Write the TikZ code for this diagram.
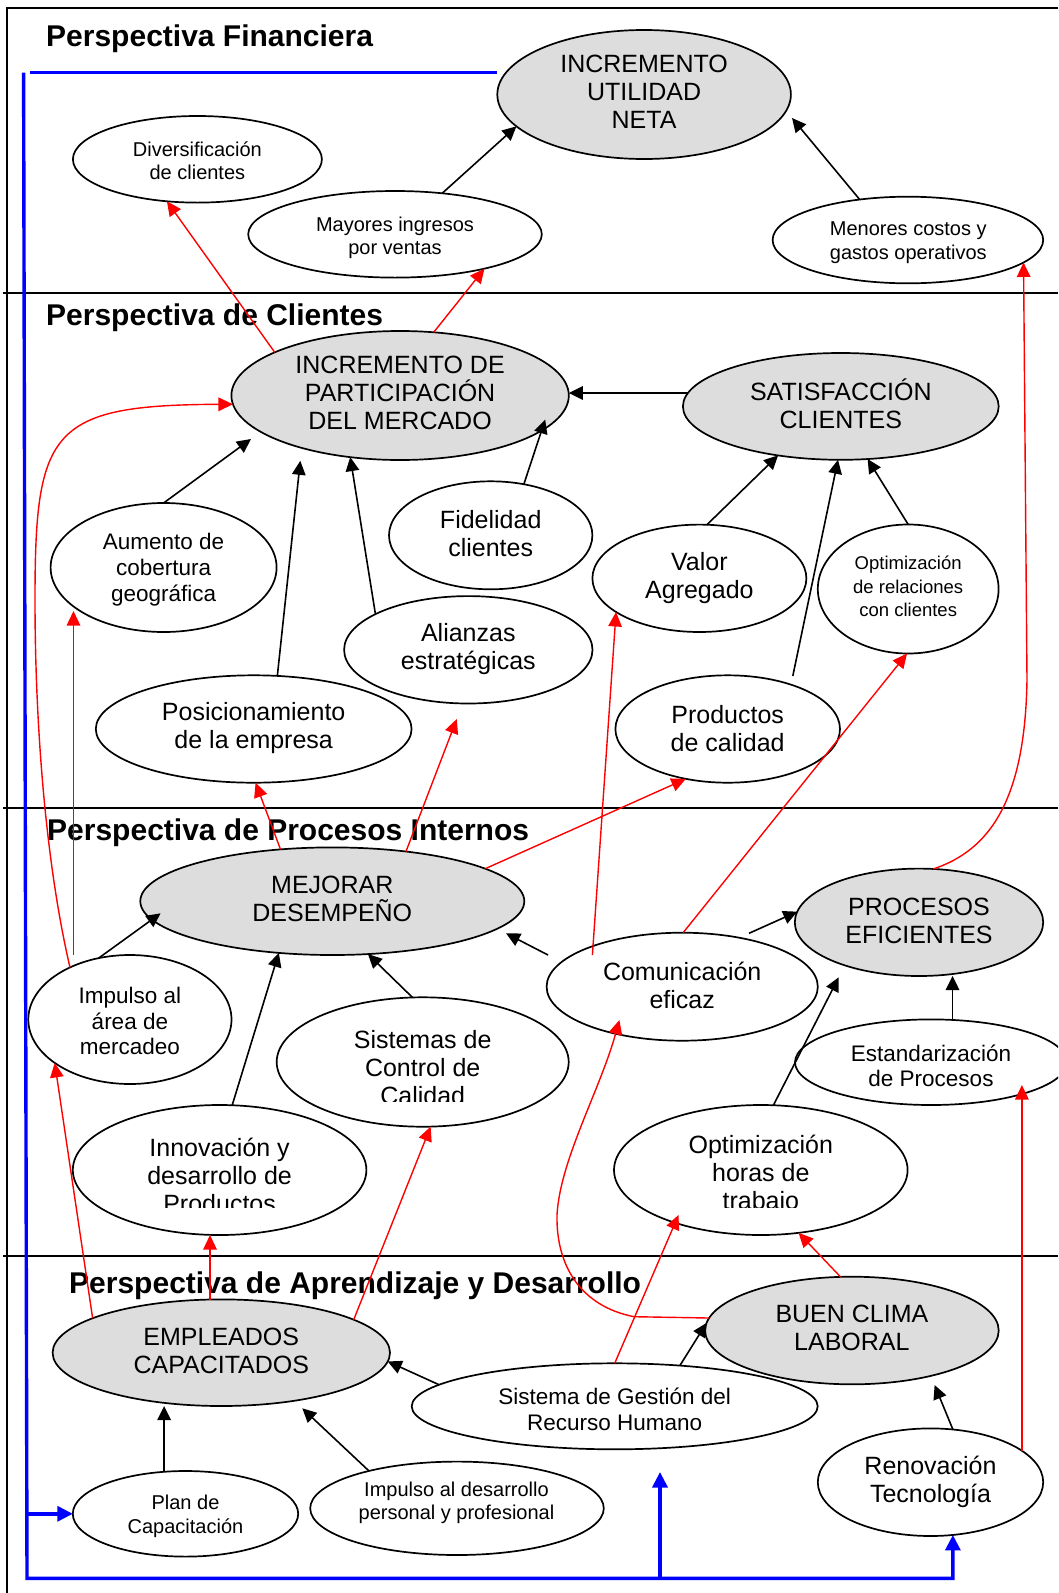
\documentclass[tikz,border=0pt]{standalone}
\usepackage{fontspec}
\setmainfont{Liberation Sans}
\usetikzlibrary{shapes.geometric,arrows.meta}
\definecolor{fillg}{RGB}{221,221,221}
\begin{document}
\begin{tikzpicture}[x=1pt,y=-1pt,
 ell/.style={ellipse,draw=black,line width=1.7pt,inner sep=0pt,outer sep=0pt,fill=white},
 gry/.style={ell,fill=fillg},
 tbig/.style={font=\fontsize{25}{28}\selectfont,align=center,inner sep=0pt},
 tmid/.style={font=\fontsize{22.5}{25.8}\selectfont,align=center,inner sep=0pt},
 tsml/.style={font=\fontsize{20}{23.5}\selectfont,align=center,inner sep=0pt},
 tsm2/.style={font=\fontsize{18.5}{23.5}\selectfont,align=center,inner sep=0pt},
 ttl/.style={font=\fontsize{30}{36}\selectfont\bfseries,anchor=base west,inner sep=0pt},
 arrB/.style={draw=black,line width=1.6pt,-{Triangle[length=14pt,width=13.5pt]}},
 arrR/.style={draw=red,line width=1.4pt,-{Triangle[length=14.5pt,width=13.5pt]}},
 lineU/.style={draw=blue,line width=3.4pt},
 arrU/.style={lineU,-{Triangle[length=15.5pt,width=15pt]}},
 frm/.style={draw=black,line width=1.6pt}]

\clip (0,0) rectangle (1058,1593);

% frame and section separators
\coordinate (fTL) at (7,8);
\coordinate (fTR) at (1058,8);
\coordinate (fBL) at (7,1593);
\draw[frm] (fTR) -- (fTL) -- (fBL);
\draw[frm] (3,293) -- (1058,293);
\draw[frm] (3,808) -- (1058,808);
\draw[frm] (3,1256) -- (1058,1256);

% titles
\node[ttl] (tFin) at (46,46.5) {Perspectiva Financiera};
\node[ttl] (tCli) at (46,325) {Perspectiva de Clientes};
\node[ttl] (tPro) at (47,840) {Perspectiva de Procesos Internos};
\node[ttl] (tApr) at (69,1293) {Perspectiva de Aprendizaje y Desarrollo};

% ellipses
\node[gry,minimum width=293.6pt,minimum height=129pt] (util) at (644.1,94.5) {};
\node[ell,minimum width=249pt,minimum height=86.6pt] (divers) at (197.4,159.3) {};
\node[ell,minimum width=293.6pt,minimum height=86.6pt] (mayores) at (395,234.3) {};
\node[ell,minimum width=270.6pt,minimum height=86.6pt] (menores) at (907.9,240) {};
\node[gry,minimum width=337.4pt,minimum height=129pt] (part) at (400.1,395.5) {};
\node[gry,minimum width=315.8pt,minimum height=106.8pt] (satis) at (840.8,406.4) {};
\node[ell,minimum width=226pt,minimum height=129pt] (aumento) at (163.6,567.5) {};
\node[ell,minimum width=203.4pt,minimum height=108pt] (fidel) at (490.7,535.3) {};
\node[ell,minimum width=214pt,minimum height=107.4pt] (valor) at (699.4,578.3) {};
\node[ell,minimum width=180.8pt,minimum height=129pt] (optrel) at (908.2,589) {};
\node[ell,minimum width=248.4pt,minimum height=107.4pt] (alianzas) at (468.3,649.8) {};
\node[ell,minimum width=315.8pt,minimum height=107.4pt] (posic) at (253.7,729) {};
\node[ell,minimum width=224.6pt,minimum height=107.4pt] (productos) at (727.7,729) {};
\node[gry,minimum width=384pt,minimum height=107.6pt] (mejorar) at (332.3,901.2) {};
\node[gry,minimum width=248.4pt,minimum height=107.4pt] (procesos) at (919,922.3) {};
\node[ell,minimum width=271.2pt,minimum height=108pt] (comun) at (682.2,986.7) {};
\node[ell,minimum width=203.2pt,minimum height=129pt] (impulso) at (129.9,1019.5) {};
\node[ell,minimum width=292pt,minimum height=129.4pt] (sistemas) at (422.7,1062) {};
\node[ell,minimum width=272pt,minimum height=85.6pt] (estand) at (931,1062.2) {};
\node[ell,minimum width=293.6pt,minimum height=130pt] (innov) at (219.6,1170) {};
\node[ell,minimum width=293.6pt,minimum height=130pt] (opthoras) at (760.8,1170) {};
\node[gry,minimum width=337.4pt,minimum height=106.6pt] (empleados) at (221.3,1352.7) {};
\node[gry,minimum width=293.6pt,minimum height=107.6pt] (clima) at (851.9,1330.5) {};
\node[ell,minimum width=406pt,minimum height=86pt] (gestion) at (614.7,1406.3) {};
\node[ell,minimum width=225.4pt,minimum height=85.6pt] (plan) at (185.5,1513.8) {};
\node[ell,minimum width=293.6pt,minimum height=93.4pt] (impdes) at (457,1508.3) {};
\node[ell,minimum width=225.4pt,minimum height=107.6pt] (renov) at (930.5,1482.2) {};

% texts
\node[tbig] (utilT) at (644.1,91.7) {INCREMENTO\\UTILIDAD\\NETA};
\node[tsml] (diversT) at (197.4,160.5) {Diversificación\\de clientes};
\node[tsml] (mayoresT) at (395,238) {Mayores ingresos\\por ventas};
\node[tsml] (menoresT) at (908.3,242.5) {Menores costos y\\gastos operativos};
\node[tbig] (partT) at (400.1,392.8) {INCREMENTO DE\\PARTICIPACIÓN\\DEL MERCADO};
\node[tbig] (satisT) at (840.8,404) {SATISFACCIÓN\\CLIENTES};
\node[tmid] (aumentoT) at (163.6,569.5) {Aumento de\\cobertura\\geográfica};
\node[tbig] (fidelT) at (490.7,534) {Fidelidad\\clientes};
\node[tbig] (valorT) at (699.4,578) {Valor\\Agregado};
\node[tsm2] (optrelT) at (908.2,586.5) {Optimización\\de relaciones\\con clientes};
\node[tbig] (alianzasT) at (468.3,649) {Alianzas\\estratégicas};
\node[tbig] (posicT) at (253.7,728.5) {Posicionamiento\\de la empresa};
\node[tbig] (productosT) at (727.7,728.5) {Productos\\de calidad};
\node[tbig] (mejorarT) at (332.3,898.8) {MEJORAR\\DESEMPEÑO};
\node[tbig] (procesosT) at (919,920.8) {PROCESOS\\EFICIENTES};
\node[tbig] (comunT) at (682.2,985) {Comunicación\\eficaz};
\node[tmid] (impulsoT) at (129.9,1021) {Impulso al\\área de\\mercadeo};
\begin{scope}
\clip (250,1000) rectangle (600,1101);
\node[tbig] (sistemasT) at (422.7,1067.3) {Sistemas de\\Control de\\Calidad};
\end{scope}
\node[tmid] (estandT) at (931,1065.8) {Estandarización\\de Procesos};
\begin{scope}
\clip (60,1100) rectangle (910,1207.3);
\node[tbig] (innovT) at (219.6,1175) {Innovación y\\desarrollo de\\Productos};
\node[tbig] (opthorasT) at (760.8,1175) {Optimización\\horas de\\trabajo};
\end{scope}
\node[tbig] (empleadosT) at (221.3,1350.8) {EMPLEADOS\\CAPACITADOS};
\node[tbig] (climaT) at (851.9,1328.3) {BUEN CLIMA\\LABORAL};
\node[tmid] (gestionT) at (614.7,1409.7) {Sistema de Gestión del\\Recurso Humano};
\node[tsml] (planT) at (185.5,1516.5) {Plan de\\Capacitación};
\node[tsml] (impdesT) at (456.5,1503) {Impulso al desarrollo\\personal y profesional};
\node[tbig] (renovT) at (930.5,1481.5) {Renovación\\Tecnología};

% free connector ends
\coordinate (pA) at (251,439);
\coordinate (pB) at (300.3,460.8);
\coordinate (pC) at (545.2,419.5);
\coordinate (pD) at (792.8,676);
\coordinate (pE) at (160.6,913.3);
\coordinate (pF) at (548,955);
\coordinate (pG) at (506,933.3);
\coordinate (pH) at (749,933.3);
\coordinate (pI) at (838.7,977.3);
\coordinate (pJ) at (934.6,1385);
\coordinate (pK) at (302.3,1408.3);
\coordinate (pQ) at (792,118);
\coordinate (pL) at (456.8,719);
\coordinate (pM) at (592.4,955);
\coordinate (pN) at (619.4,1020);
\coordinate (pO) at (678.5,1215);
\coordinate (pP) at (1021,1085);
\coordinate (pR) at (73.5,611);

% black connectors
\draw[arrB] (mayores.41.4) -- (util.-166.1);
\draw[arrB] (menores.140.3) -- (pQ);
\draw[arrB] (satis.175.9) -- (satis.175.9 -| part.east);
\draw[arrB] (aumento.90) -- (pA);
\draw[arrB] (posic.66.8) -- (pB);
\draw[arrB] (alianzas.159.3) -- (part.-129.9);
\draw[arrB] (fidel.57) -- (pC);
\draw[arrB] (valor.82.5) -- (satis.-142.2);
\draw[arrB] (pD) -- (satis.-93.5);
\draw[arrB] (optrel.90) -- (satis.-63.6);
\draw[arrB] (impulso.117.9) -- (pE);
\draw[arrB] (innov.79.7) -- (mejorar.-136.8);
\draw[arrB] (sistemas.99.7) -- (mejorar.-56);
\draw[arrB] (pF) -- (pG);
\draw[arrB] (pH) -- (procesos.175.2);
\draw[arrB] (estand.63.1) -- (estand.63.1 |- procesos.south);
\draw[arrB] (opthoras.79.7) -- (pI);
\draw[arrB] (gestion.173.2) -- (empleados.-3.6);
\draw[arrB] (gestion.32.2) -- (clima.177.2);
\draw[arrB] (renov.67.5) -- (pJ);
\draw[arrB] (plan.117.4) -- (plan.117.4 |- empleados.south);
\draw[arrB] (impdes.157.3) -- (pK);

% red connectors
\draw[arrR] (part.161) -- (divers.-126.1);
\draw[arrR] (part.62.1) -- (mayores.-21.4);
\draw[arrR] (procesos.75.5) .. controls (990,850) and (1025,800) .. (1027,680) -- (menores.-11);
\draw[arrR] (impulso.139.9) .. controls (45,860) and (35,720) .. (35,600) .. controls (35,430) and (50,405) .. (part.-177.8);
\draw[arrR] (pR |- impulso.north) -- (pR);
\draw[arrR] (mejorar.135.6) -- (posic.-88.6);
\draw[arrR] (mejorar.34) -- (pL);
\draw[arrR] (mejorar.12.5) -- (productos.-130.3);
\draw[arrR] (pM) -- (valor.-158.7);
\draw[arrR] (comun.89) -- (optrel.-91.8);
\draw[arrR] (clima.175.9) -- (634,1316.7) .. controls (580,1306) and (556,1265) .. (557,1215) .. controls (560,1160) and (600,1090) .. (pN);
\draw[arrR] (gestion.north) -- (pO);
\draw[arrR] (clima.102.5) -- (opthoras.-59.6);
\draw[arrR] (renov.19.6) -- (renov.19.6 |- pP);
\draw[arrR] (empleados.165.4) -- (impulso.-150.2);
\draw[arrR] (empleados.102.8) -- (empleados.102.8 |- innov.south);
\draw[arrR] (empleados.14.9) -- (sistemas.-83.9);

% blue lines
\coordinate (bTL) at (23.6,72.7);
\coordinate (bH1) at (30.4,72.7);
\coordinate (bH2) at (497.3,72.7);
\coordinate (bBL) at (27,1578.3);
\coordinate (bMid) at (660,1578.3);
\coordinate (bMidTip) at (660,1472);
\coordinate (bBr) at (26.9,1513.8);
\draw[lineU] (bH1) -- (bH2);
\draw[arrU] (bTL) -- (bBL) -- (renov.-67 |- bBL) -- (renov.-67);
\draw[arrU] (bMid) -- (bMidTip);
\draw[arrU] (bBr) -- (plan.west);
\end{tikzpicture}
\end{document}
